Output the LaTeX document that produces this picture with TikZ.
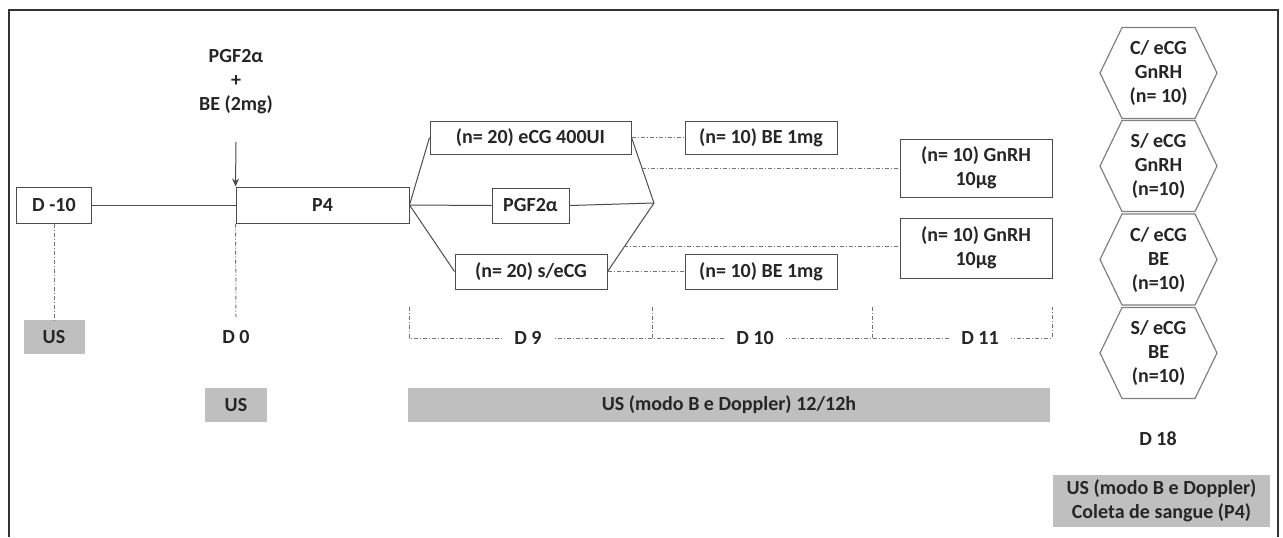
\documentclass[tikz,border=0pt]{standalone}
\usepackage{fontspec}
\setmainfont{Carlito}
\usetikzlibrary{calc,arrows.meta}

\begin{document}
\begin{tikzpicture}[x=0.5pt,y=-0.5pt,
  every node/.style={font=\fontsize{10}{12}\selectfont\bfseries,text=black!85},
  stepbox/.style={draw=black!70,line width=0.5pt,inner sep=0pt,align=center},
  usbox/.style={fill=gray!50,inner sep=0pt,align=center},
  link/.style={draw=black!70,line width=0.5pt},
  dotdash/.style={draw=black!55,line width=0.5pt,dash pattern=on 2pt off 1pt on 0.5pt off 1pt},
  daylabel/.style={fill=white,inner xsep=6pt,inner ysep=1pt},
  hexline/.style={draw=black!50,line width=0.6pt},
  >={Stealth[length=4pt,width=3.5pt]}]
\useasboundingbox (0,0) rectangle (1283,537);
\draw[line width=1pt,black!80] (9,537) -- (9,10) -- (1278,10) -- (1278,537);

% start of protocol
\node[stepbox,minimum width=37.5pt,minimum height=18pt] (dm10) at (54,205) {D -10};
\node[stepbox,minimum width=86.5pt,minimum height=18pt] (p4) at (322.5,205) {P4};
\node[align=center] (pgfbe) at (236,82) {PGF2α\\+\\BE (2mg)};
\coordinate (arrtop) at (236,142);
\draw[link,->] (arrtop) -- (p4.north west);
\draw[link] (dm10) -- (p4);

\node[usbox,minimum width=30.5pt,minimum height=17pt] (us1) at (54,337) {US};
\draw[dotdash] (dm10.south) -- (us1.north);
\node (d0) at (236,337) {D 0};
\coordinate (d0top) at (236,317);
\draw[dotdash] (p4.south west) -- (d0top);
\node[usbox,minimum width=31pt,minimum height=17pt] (us2) at (236,405) {US};

% treatments
\node[stepbox,minimum width=100.5pt,minimum height=16.5pt] (ecg) at (530.5,137.5) {(n= 20) eCG 400UI};
\node[stepbox,minimum width=38.5pt,minimum height=17.5pt] (pgf) at (530.5,205.5) {PGF2α};
\node[stepbox,minimum width=76pt,minimum height=17.5pt] (secg) at (531,271.5) {(n= 20) s/eCG};
\coordinate (forkR) at (654,203);
\draw[link] (p4.east) -- (ecg.west);
\draw[link] (p4.east) -- (pgf.west);
\draw[link] (p4.east) -- (secg.west);
\draw[link] (ecg.east) -- (forkR);
\draw[link] (pgf.east) -- (forkR);
\draw[link] (secg.east) -- (forkR);

\node[stepbox,minimum width=76pt,minimum height=16.5pt] (be1) at (761,137.5) {(n= 10) BE 1mg};
\node[stepbox,minimum width=76pt,minimum height=17.5pt] (be2) at (761,271.5) {(n= 10) BE 1mg};
\node[stepbox,minimum width=76pt,minimum height=29pt] (gn1) at (976,168) {(n= 10) GnRH\\10µg};
\node[stepbox,minimum width=76pt,minimum height=30pt] (gn2) at (976,248) {(n= 10) GnRH\\10µg};
\draw[dotdash] (ecg.east) -- (be1.west);
\draw[dotdash] (secg.east) -- (be2.west);
\coordinate (c1) at ($(ecg.east)!0.47!(forkR)$);
\coordinate (c2) at ($(secg.east)!0.36!(forkR)$);
\draw[dotdash] (c1) -- (c1 -| gn1.west);
\draw[dotdash] (c2) -- (c2 -| gn2.west);

% days
\coordinate (ta) at (409,307);
\coordinate (tb) at (652,307);
\coordinate (tc) at (872,307);
\coordinate (td) at (1052,307);
\draw[dotdash] (ta) -- ++(0,31) -- ($(td)+(0,31)$) -- (td);
\draw[dotdash] (tb) -- ++(0,31);
\draw[dotdash] (tc) -- ++(0,31);
\node[daylabel] (d9) at (528,338) {D 9};
\node[daylabel] (d10) at (755,338) {D 10};
\node[daylabel] (d11) at (980,338) {D 11};
\node[usbox,minimum width=321pt,minimum height=17pt] (usbar) at (729,405) {US (modo B e Doppler) 12/12h};

% groups
\node[align=center] (grp1) at (1158.5,73) {C/ eCG\\GnRH\\(n= 10)};
\node[align=center] (grp2) at (1158.5,166) {S/ eCG\\GnRH\\(n=10)};
\node[align=center] (grp3) at (1158.5,259.5) {C/ eCG\\BE\\(n=10)};
\node[align=center] (grp4) at (1158.5,353) {S/ eCG\\BE\\(n=10)};
\foreach \g in {grp1,grp2,grp3,grp4}
  \draw[hexline] ($(\g.center)+(-58.5,0)$) -- ++(22,-45.5) -- ++(73,0) -- ++(22,45.5) -- ++(-22,45.5) -- ++(-73,0) -- cycle;
\node (d18) at (1158,439) {D 18};
\node[usbox,minimum width=108.5pt,minimum height=26pt] (usend) at (1161.5,501) {US (modo B e Doppler)\\Coleta de sangue (P4)};
\end{tikzpicture}
\end{document}
